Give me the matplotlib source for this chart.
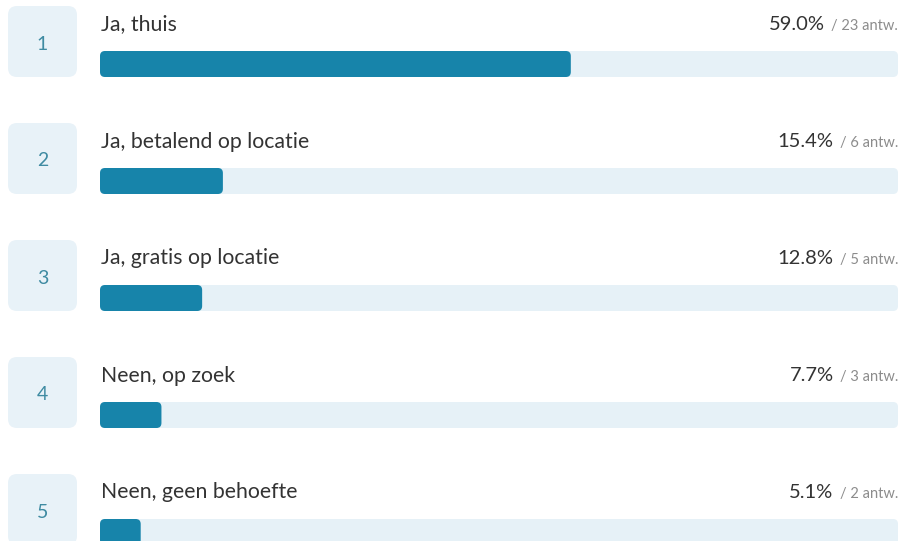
import matplotlib
matplotlib.use('Agg')
import matplotlib.pyplot as plt
from matplotlib.patches import FancyBboxPatch

# data
labels = ['Ja, thuis', 'Ja, betalend op locatie', 'Ja, gratis op locatie',
          'Neen, op zoek', 'Neen, geen behoefte']
percentages = [59.0, 15.4, 12.8, 7.7, 5.1]
counts = [23, 6, 5, 3, 2]

# colours
box_color = '#e8f2f8'
track_color = '#e6f1f7'
fill_color = '#1784aa'
num_color = '#3f8ba2'
text_color = '#333333'
sub_color = '#8c8c8c'

plt.rcParams['font.family'] = ['Lato', 'DejaVu Sans']

W, H = 899, 541
fig = plt.figure(figsize=(W / 100, H / 100), dpi=100)
ax = fig.add_axes([0, 0, 1, 1])
ax.set_xlim(0, W)
ax.set_ylim(H, 0)
ax.axis('off')

row_pitch = 117
track_x0, track_x1 = 100, 898
track_w = track_x1 - track_x0

renderer = fig.canvas.get_renderer()

for i, (lab, pct, n) in enumerate(zip(labels, percentages, counts)):
    top = 5 + i * row_pitch

    # vak met volgnummer
    ax.add_patch(FancyBboxPatch((8, top + 1), 69, 71,
                                boxstyle='round,pad=0,rounding_size=9',
                                fc=box_color, ec='none'))
    ax.text(42.5, top + 39, str(i + 1), ha='center', va='center',
            fontsize=14, color=num_color)

    # label
    ax.text(track_x0 + 1, top + 19.5, lab, ha='left', va='center',
            fontsize=15.3, color=text_color)

    # balk: achtergrond + waarde
    bar_y = top + 46
    ax.add_patch(FancyBboxPatch((track_x0, bar_y), track_w, 26,
                                boxstyle='round,pad=0,rounding_size=5',
                                fc=track_color, ec='none'))
    ax.add_patch(FancyBboxPatch((track_x0, bar_y), track_w * pct / 100, 26,
                                boxstyle='round,pad=0,rounding_size=5',
                                fc=fill_color, ec='none'))

    # percentage en aantal, rechts uitgelijnd
    t = ax.text(track_x1, top + 21, f'/ {n} antw.', ha='right', va='center',
                fontsize=10.5, color=sub_color)
    bb = t.get_window_extent(renderer)
    x_left = ax.transData.inverted().transform((bb.x0, bb.y0))[0]
    ax.text(x_left - 6, top + 19.5, f'{pct:.1f}%', ha='right', va='center',
            fontsize=14.5, color=text_color)

fig.savefig('out.png', dpi=100)
